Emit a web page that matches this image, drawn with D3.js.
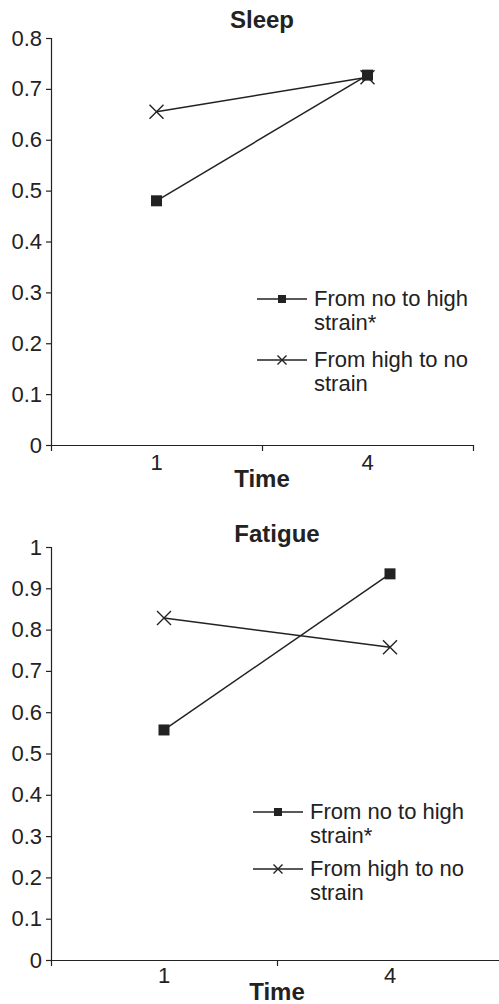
<!DOCTYPE html>
<html>
<head>
<meta charset="utf-8">
<script src="https://cdn.jsdelivr.net/npm/d3@7"></script>
<style>
  body { margin: 0; background: #fff; }
  svg text { font-family: "Liberation Sans", Arial, sans-serif; fill: #222; }
</style>
</head>
<body>
<div id="chart"></div>
<script>
// Data
const times = ["1", "4"];
const sleepNoToHigh = [0.48, 0.727];
const sleepHighToNo = [0.655, 0.723];
const fatigueNoToHigh = [0.557, 0.935];
const fatigueHighToNo = [0.828, 0.757];
const sleepTicks = [0, 0.1, 0.2, 0.3, 0.4, 0.5, 0.6, 0.7, 0.8];
const fatigueTicks = [0, 0.1, 0.2, 0.3, 0.4, 0.5, 0.6, 0.7, 0.8, 0.9, 1];
const legendLabels = [["From no to high", "strain*"], ["From high to no", "strain"]];

const svg = d3.select("#chart")
  .append("svg")
  .attr("width", 499)
  .attr("height", 1004);

const ink = "#222";

// Draw a marker: square or cross
function marker(g, type, x, y, size) {
  if (type === "square") {
    g.append("rect")
      .attr("x", x - size / 2).attr("y", y - size / 2)
      .attr("width", size).attr("height", size)
      .attr("fill", ink);
  } else {
    const h = size / 2;
    g.append("path")
      .attr("d", `M${x - h},${y - h}L${x + h},${y + h}M${x - h},${y + h}L${x + h},${y - h}`)
      .attr("stroke", ink).attr("stroke-width", 1.4).attr("fill", "none");
  }
}

function panel(opt) {
  const g = svg.append("g");

  const x = d3.scaleBand().domain(times).range([opt.left, opt.right]);
  const xEdge = d3.scaleLinear().domain([0, times.length]).range([opt.left, opt.right]);
  const y = d3.scaleLinear().domain([0, opt.max]).range([opt.bottom, opt.top]);

  // y axis
  const yAxis = g.append("g")
    .attr("transform", `translate(${opt.left},0)`)
    .call(d3.axisLeft(y).tickValues(opt.ticks).tickSize(5).tickPadding(4)
      .tickFormat(d => d === 0 ? "0" : d3.format("~g")(d)));
  yAxis.select(".domain").attr("stroke", ink).attr("stroke-width", 1.2);
  yAxis.selectAll("line").attr("stroke", ink).attr("stroke-width", 1.2);
  yAxis.selectAll("text").attr("font-size", 22).attr("fill", ink)
    .style("font-family", "'Liberation Sans', Arial, sans-serif");

  // x axis: tick marks at category edges
  const xAxis = g.append("g")
    .attr("transform", `translate(0,${opt.bottom})`)
    .call(d3.axisBottom(xEdge).tickValues(d3.range(times.length + 1)).tickSize(6).tickSizeOuter(0).tickFormat(""));
  xAxis.select(".domain").attr("stroke", ink).attr("stroke-width", 1.2);
  xAxis.selectAll("line").attr("stroke", ink).attr("stroke-width", 1.2);

  // category labels
  g.selectAll(".xlab")
    .data(times)
    .join("text")
    .attr("x", d => x(d) + x.bandwidth() / 2)
    .attr("y", opt.bottom + opt.labelGap)
    .attr("text-anchor", "middle")
    .attr("font-size", 22)
    .text(d => d);

  // titles
  g.append("text")
    .attr("x", opt.titleX).attr("y", opt.titleY)
    .attr("text-anchor", "middle")
    .attr("font-size", 24).attr("font-weight", "bold")
    .text(opt.title);
  g.append("text")
    .attr("x", opt.titleX).attr("y", opt.timeY)
    .attr("text-anchor", "middle")
    .attr("font-size", 24).attr("font-weight", "bold")
    .text("Time");

  // series
  const line = d3.line()
    .x((d, i) => x(times[i]) + x.bandwidth() / 2)
    .y(d => y(d));
  [[opt.noToHigh, "square", 11], [opt.highToNo, "cross", 14]].forEach(([vals, type, size]) => {
    g.append("path")
      .datum(vals)
      .attr("d", line)
      .attr("fill", "none")
      .attr("stroke", ink)
      .attr("stroke-width", 1.5);
    vals.forEach((v, i) => marker(g, type, x(times[i]) + x.bandwidth() / 2, y(v), size));
  });

  // legend
  const types = ["square", "cross"];
  legendLabels.forEach((lines, i) => {
    const ly = opt.legendY + i * opt.legendStep;
    g.append("line")
      .attr("x1", opt.legendX).attr("x2", opt.legendX + 50)
      .attr("y1", ly).attr("y2", ly)
      .attr("stroke", ink).attr("stroke-width", 1.5);
    marker(g, types[i], opt.legendX + 25, ly, types[i] === "square" ? 8 : 9);
    lines.forEach((t, j) => {
      g.append("text")
        .attr("x", opt.legendX + 57)
        .attr("y", ly + 7 + j * 24)
        .attr("font-size", 22)
        .text(t);
    });
  });
}

panel({
  title: "Sleep", max: 0.8, ticks: sleepTicks,
  left: 51, right: 473, top: 38, bottom: 445, labelGap: 25,
  titleX: 262, titleY: 28, timeY: 487,
  noToHigh: sleepNoToHigh, highToNo: sleepHighToNo,
  legendX: 257, legendY: 299, legendStep: 61
});

panel({
  title: "Fatigue", max: 1, ticks: fatigueTicks,
  left: 51, right: 503, top: 547, bottom: 960, labelGap: 23,
  titleX: 277, titleY: 542, timeY: 1000,
  noToHigh: fatigueNoToHigh, highToNo: fatigueHighToNo,
  legendX: 253, legendY: 812, legendStep: 57
});
</script>
</body>
</html>
